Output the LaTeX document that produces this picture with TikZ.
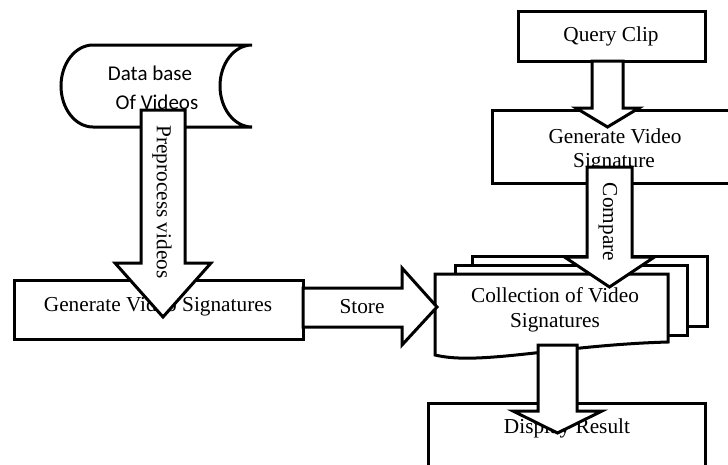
\documentclass[tikz,border=0pt]{standalone}
\usepackage{fontspec}
\setmainfont{Liberation Serif}
\newfontfamily\calib{Carlito}
\tikzset{
  shp/.style={draw=black, fill=white, line width=3pt, line join=miter},
  blk/.style={draw=black, fill=white, line width=3pt, line join=miter},
  lbl/.style={inner sep=0pt, font=\fontsize{21.3}{25}\selectfont},
  slbl/.style={inner sep=0pt, font=\calib\fontsize{21}{25}\selectfont},
}
\newcommand{\blkdown}[6]{%
  \draw[blk] ({#1-#5},#2) -- ({#1-#5},#3) -- ({#1-#6},#3) -- (#1,#4) -- ({#1+#6},#3) -- ({#1+#5},#3) -- ({#1+#5},#2) -- cycle;}
\begin{document}
\begin{tikzpicture}[x=1pt,y=-1pt]
\useasboundingbox (0,0) rectangle (728,464);
\clip (0,0) rectangle (728,464);
% Data base (stored data)
\draw[shp] (93,45) -- (252,45)
  .. controls (234.3,45) and (220,63.4) .. (220,86)
  .. controls (220,108.6) and (234.3,127) .. (252,127)
  -- (93,127)
  .. controls (75.3,127) and (61,108.6) .. (61,86)
  .. controls (61,63.4) and (75.3,45) .. cycle;
\node[slbl] (db1) at (150,73) {Data base};
\node[slbl] (db2) at (157,102) {Of Videos};
% Generate Video Signatures
\draw[shp] (14,280) rectangle (303,339);
\node[lbl] (gvs) at (158,306) {Generate Video Signatures};
% Query clip
\draw[shp] (518,11) rectangle (705,61);
\node[lbl] (qc) at (611,36) {Query Clip};
% Generate Video Signature
\draw[shp] (492,110) rectangle (745,183);
\node[lbl] (gv1) at (615,136) {Generate Video};
\node[lbl] (gv2) at (614,163) {Signature};
% Collection (multi document)
\draw[shp] (472,256) rectangle (707,326);
\draw[shp] (455,265) rectangle (687,335);
\draw[shp] (435,274) -- (668,274) -- (668,342) .. controls (560,345) and (480,366) .. (435,355) -- cycle;
\node[lbl] (col1) at (555,295) {Collection of Video};
\node[lbl] (col2) at (555,323) {Signatures};
% Display result
\draw[shp] (428,403) rectangle (705,480);
\node[lbl] (dr) at (567,428) {Display Result};
% Block arrows
\blkdown{163}{110}{263}{317}{22}{48}
\node[lbl, rotate=-90] (pre) at (162,202) {Preprocess videos};
\blkdown{607.5}{61}{108}{127}{15.5}{31.5}
\blkdown{609.5}{167}{257}{287}{22.5}{45}
\node[lbl, rotate=-90] (cmp) at (608,222) {Compare};
\blkdown{557.5}{345}{411}{433}{19.5}{44.5}
\draw[blk] (303,288) -- (402,288) -- (402,268) -- (437,307) -- (402,345) -- (402,327) -- (303,327) -- cycle;
\node[lbl] (st) at (362,307) {Store};
\end{tikzpicture}
\end{document}
